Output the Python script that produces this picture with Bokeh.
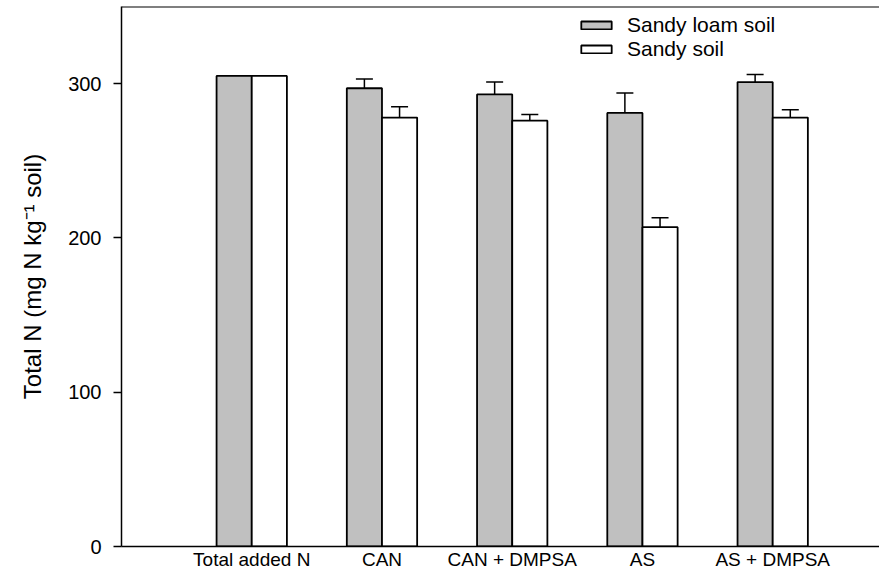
from bokeh.plotting import figure
from bokeh.models import (FixedTicker, Whisker, TeeHead, ColumnDataSource, Legend,
                          LegendItem, Span, Range1d)
from bokeh.transform import dodge
from bokeh.embed import file_html
from bokeh.resources import INLINE

# ---- data ----
categories = ["Total added N", "CAN", "CAN + DMPSA", "AS", "AS + DMPSA"]
sandy_loam = [305, 297, 293, 281, 301]
sandy_loam_err = [0, 6, 8, 13, 5]
sandy = [305, 278, 276, 207, 278]
sandy_err = [0, 7, 4, 6, 5]
y_ticks = [0, 100, 200, 300]
y_max = 350

FONT = "Liberation Sans"
BAR_W = 0.27
x_pos = list(range(1, len(categories) + 1))

p = figure(width=879, height=572, x_range=Range1d(0, 5.82), y_range=Range1d(0, y_max),
           output_backend="svg", toolbar_location=None,
           min_border_left=121, min_border_right=0, min_border_top=6, min_border_bottom=25)

src = ColumnDataSource(dict(x=x_pos, loam=sandy_loam, sandy=sandy))
r1 = p.vbar(x=dodge('x', -BAR_W / 2), top='loam', width=BAR_W, source=src,
            fill_color="#c0c0c0", line_color="black", line_width=1.8)
r2 = p.vbar(x=dodge('x', BAR_W / 2), top='sandy', width=BAR_W, source=src,
            fill_color="white", line_color="black", line_width=1.8)

# error bars (upper only)
for vals, errs, off in ((sandy_loam, sandy_loam_err, -BAR_W / 2), (sandy, sandy_err, BAR_W / 2)):
    base, lower, upper = [], [], []
    for xi, v, e in zip(x_pos, vals, errs):
        if e > 0:
            base.append(xi + off)
            lower.append(v)
            upper.append(v + e)
    ws = ColumnDataSource(dict(base=base, lower=lower, upper=upper))
    w = Whisker(source=ws, base='base', lower='lower', upper='upper',
                upper_head=TeeHead(size=17, line_width=1.5, line_color="black"),
                lower_head=None, line_width=1.5, line_color="black")
    p.add_layout(w)

# axes
p.xgrid.grid_line_color = None
p.ygrid.grid_line_color = None
p.outline_line_color = None

p.yaxis.ticker = FixedTicker(ticks=y_ticks)
p.yaxis.major_tick_out = 8
p.yaxis.major_tick_in = 0
p.yaxis.minor_tick_out = 0
p.yaxis.minor_tick_in = 0
p.yaxis.axis_line_width = 1.5
p.yaxis.major_tick_line_width = 1.5
p.yaxis.major_label_text_font = FONT
p.yaxis.major_label_text_font_size = "20px"
p.yaxis.major_label_text_color = "black"
p.yaxis.major_label_standoff = 12
p.yaxis.axis_label = "Total N (mg N kg\u207b\u00b9 soil)"
p.yaxis.axis_label_text_font = FONT
p.yaxis.axis_label_text_font_size = "24px"
p.yaxis.axis_label_text_font_style = "normal"
p.yaxis.axis_label_text_color = "black"
p.yaxis.axis_label_standoff = 19

p.xaxis.ticker = FixedTicker(ticks=x_pos)
p.xaxis.major_label_overrides = {x: c for x, c in zip(x_pos, categories)}
p.xaxis.major_tick_out = 0
p.xaxis.major_tick_in = 0
p.xaxis.minor_tick_out = 0
p.xaxis.minor_tick_in = 0
p.xaxis.axis_line_width = 1.5
p.xaxis.major_label_text_font = FONT
p.xaxis.major_label_text_font_size = "19px"
p.xaxis.major_label_text_color = "black"
p.xaxis.major_label_standoff = 2

p.add_layout(Span(location=y_max, dimension='width', line_color="black", line_width=2))

legend = Legend(items=[LegendItem(label="Sandy loam soil", renderers=[r1]),
                       LegendItem(label="Sandy soil", renderers=[r2])],
                location=(456, 485), border_line_color=None, background_fill_alpha=0,
                padding=0, margin=0, spacing=0, glyph_width=38, glyph_height=10,
                label_height=19, label_standoff=12, label_text_font=FONT,
                label_text_font_size="21px", label_text_color="black")
p.add_layout(legend)

open("out.html", "w").write(file_html(p, INLINE))
